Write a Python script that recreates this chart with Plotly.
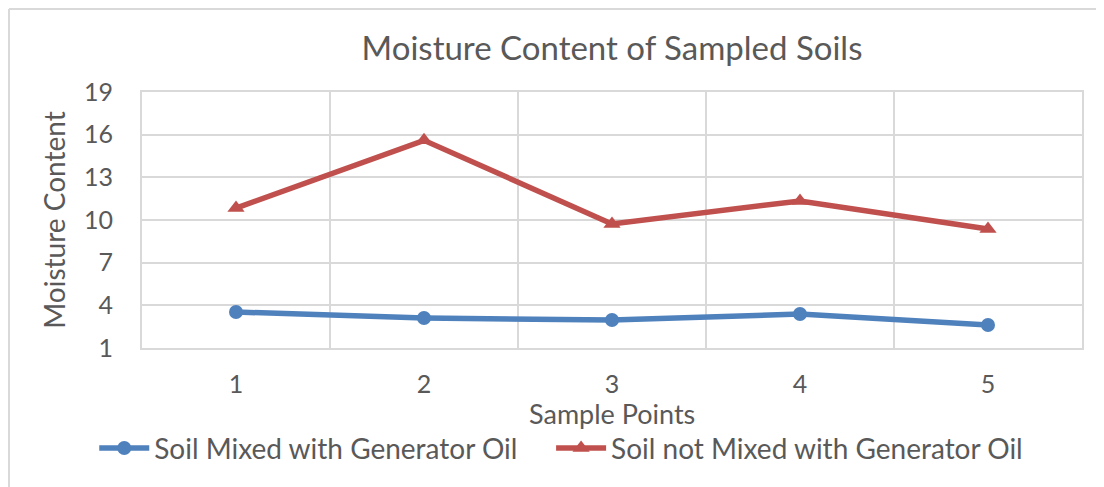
import plotly.graph_objects as go

sample_points = [1, 2, 3, 4, 5]
mixed = [3.53, 3.11, 2.97, 3.39, 2.62]
not_mixed = [10.84, 15.6, 9.72, 11.34, 9.37]

text_color = "#595959"
grid_color = "#D9D9D9"
font_family = "Lato, Open Sans, sans-serif"

fig = go.Figure()

fig.add_trace(
    go.Scatter(
        x=sample_points,
        y=mixed,
        mode="lines+markers",
        line=dict(color="#4F81BD", width=5.5),
        marker=dict(symbol="circle", size=14, color="#4F81BD"),
        name="Soil Mixed with Generator Oil\u00a0\u00a0\u00a0\u00a0"
    )
)

fig.add_trace(
    go.Scatter(
        x=sample_points,
        y=not_mixed,
        mode="lines+markers",
        line=dict(color="#C0504D", width=5.5),
        marker=dict(symbol="triangle-up", size=15, color="#C0504D"),
        name="Soil not Mixed with Generator Oil"
    )
)

# outer chart border (left and top edges)
fig.add_shape(type="line", xref="paper", yref="paper",
              x0=-0.1415, x1=-0.1415, y0=-0.6, y1=1.324,
              line=dict(color=grid_color, width=2))
fig.add_shape(type="line", xref="paper", yref="paper",
              x0=-0.1415, x1=1.1, y0=1.324, y1=1.324,
              line=dict(color=grid_color, width=2))

# x axis title
fig.add_annotation(
    text="Sample Points", xref="paper", yref="paper",
    x=0.5, y=-0.256, xanchor="center", yanchor="middle",
    showarrow=False, font=dict(size=27, color=text_color)
)

fig.update_layout(
    width=1096,
    height=479,
    paper_bgcolor="white",
    plot_bgcolor="white",
    margin=dict(l=134, r=22, t=84, b=139),
    font=dict(family=font_family, color=text_color, size=25),
    title=dict(
        text="Moisture Content of Sampled Soils",
        x=0.5, xanchor="center", xref="paper",
        y=0.916, yanchor="middle",
        font=dict(size=33, color=text_color)
    ),
    xaxis=dict(
        range=[0.5, 5.5],
        tickvals=sample_points,
        ticktext=[str(v) for v in sample_points],
        showgrid=False,
        zeroline=False,
        showline=True, mirror=True, linecolor=grid_color, linewidth=2,
        ticks="",
        ticklabelstandoff=13,
        minor=dict(tickvals=[0.5, 1.5, 2.5, 3.5, 4.5, 5.5], showgrid=True,
                   gridcolor=grid_color, gridwidth=2),
        tickfont=dict(size=25)
    ),
    yaxis=dict(
        range=[1, 19],
        tick0=1, dtick=3,
        showgrid=True, gridcolor=grid_color, gridwidth=2,
        zeroline=False,
        showline=True, mirror=True, linecolor=grid_color, linewidth=2,
        ticks="",
        ticklabelstandoff=22,
        title=dict(text="Moisture Content", standoff=10, font=dict(size=28)),
        tickfont=dict(size=25)
    ),
    legend=dict(
        orientation="h",
        x=0.446, xanchor="center",
        y=-0.392, yanchor="middle",
        font=dict(size=28),
        itemwidth=50,
        traceorder="normal"
    ),
    showlegend=True
)

fig.write_html("out.html")
